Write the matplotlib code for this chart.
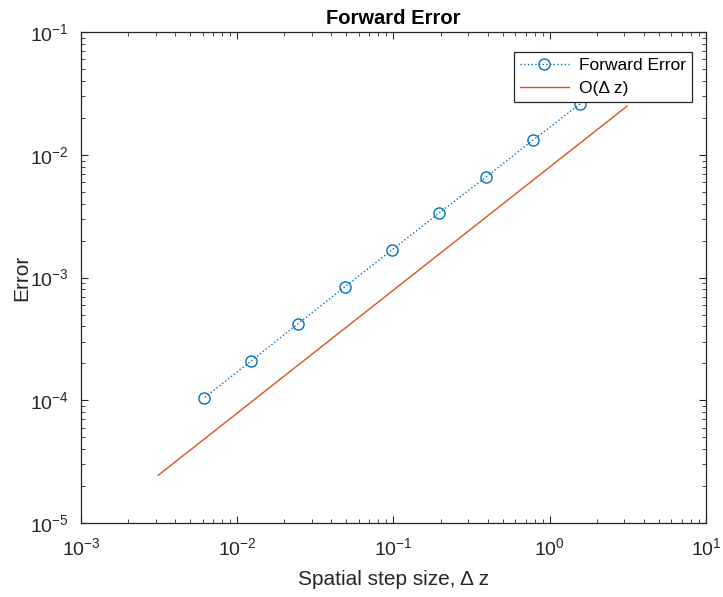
import numpy as np
import matplotlib.pyplot as plt

plt.rcParams['font.family'] = ['Liberation Sans', 'DejaVu Sans']

# passos espaciais e erro medido
dz = [1.5625, 0.78125, 0.390625, 0.1953125, 0.09765625, 0.048828125,
      0.0244140625, 0.01220703125, 0.006103515625]
erro = [2.6e-2, 1.32e-2, 6.6e-3, 3.35e-3, 1.68e-3, 8.4e-4, 4.2e-4, 2.08e-4, 1.04e-4]

# reta de referencia O(dz)
dz_ref = [0.003125, 3.125]
erro_ref = [2.45e-5, 2.5e-2]

azul = (0.0, 0.447, 0.741)
laranja = (0.85, 0.325, 0.098)
cinza = '#262626'

fig = plt.figure(figsize=(7.23, 5.97), dpi=100)
ax = fig.add_axes([0.112, 0.124, 0.8645, 0.822])

ax.loglog(dz, erro, ':o', color=azul, markerfacecolor='none', markersize=8,
          linewidth=1, label='Forward Error')
ax.loglog(dz_ref, erro_ref, '-', color=laranja, linewidth=1, label='O(Δ z)')

ax.set_xlim(1e-3, 1e1)
ax.set_ylim(1e-5, 1e-1)
ax.set_xticks([1e-3, 1e-2, 1e-1, 1e0, 1e1])
ax.set_yticks([1e-5, 1e-4, 1e-3, 1e-2, 1e-1])

ax.tick_params(which='both', direction='in', top=True, right=True, colors=cinza,
               labelsize=14)
ax.tick_params(axis='x', which='major', pad=10)
ax.tick_params(axis='y', which='major', pad=9)
ax.tick_params(which='major', length=5)
ax.tick_params(which='minor', length=3)
for s in ax.spines.values():
    s.set_color(cinza)
    s.set_linewidth(0.9)

ax.set_xlabel('Spatial step size, Δ z', fontsize=15, color=cinza, labelpad=8)
ax.set_ylabel('Error', fontsize=15, color=cinza, labelpad=-1)
ax.set_title('Forward Error', fontsize=14.5, fontweight='bold', color='black', pad=6)

leg = ax.legend(loc='upper right', bbox_to_anchor=(0.9776, 0.9593), borderaxespad=0,
                fontsize=12.5, fancybox=False, framealpha=1, edgecolor=cinza,
                handlelength=2.8, borderpad=0.35, labelspacing=0.45,
                handletextpad=0.6)
leg.get_frame().set_linewidth(0.9)

fig.savefig('out.png', dpi=100)
